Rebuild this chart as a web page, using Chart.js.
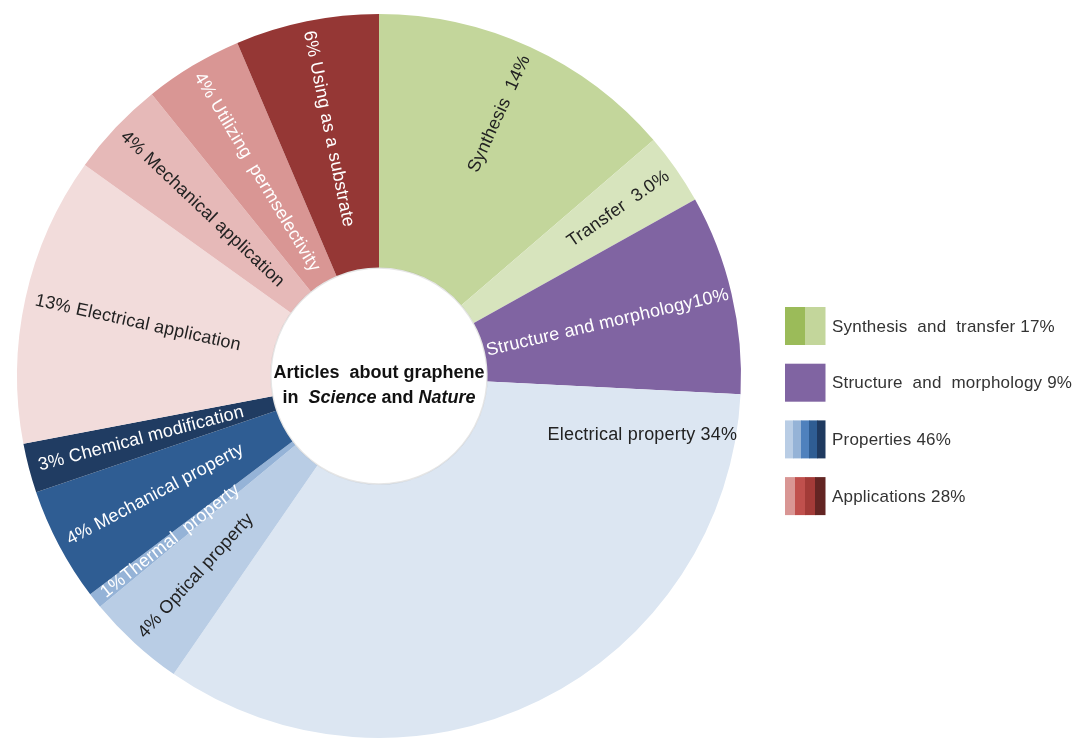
<!DOCTYPE html>
<html>
<head>
<meta charset="utf-8">
<title>Articles about graphene in Science and Nature</title>
<script src="https://cdn.jsdelivr.net/npm/chart.js"></script>
<style>
  html, body { margin: 0; padding: 0; background: #fff; }
  #wrap { width: 1081px; height: 742px; }
</style>
</head>
<body>
<div id="wrap"><canvas id="pie" width="1081" height="742"></canvas></div>
<script>
// slices go clockwise from 12 o'clock
const categories = [
  'Synthesis', 'Transfer', 'Structure and morphology', 'Electrical property',
  'Optical property', 'Thermal property', 'Mechanical property', 'Chemical modification',
  'Electrical application', 'Mechanical application', 'Utilizing permselectivity', 'Using as a substrate'
];
// shares
const values = [13.7, 3.2, 8.9, 33.8, 4.4, 0.7, 5.1, 2.2, 12.9, 4.3, 4.4, 6.4];
// text printed on the slices
const sliceLabels = [
  'Synthesis  14%', 'Transfer  3.0%', 'Structure and morphology10%', 'Electrical property 34%',
  '4% Optical property', '1%Thermal  property', '4% Mechanical property', '3% Chemical modification',
  '13% Electrical application', '4% Mechanical application', '4% Utilizing  permselectivity', '6% Using as a substrate'
];
const legendLabels = [
  'Synthesis  and  transfer 17%', 'Structure  and  morphology 9%', 'Properties 46%', 'Applications 28%'
];

// styles
const sliceColors = [
  '#c3d69b', '#d7e4bd', '#8064a2', '#dce6f2',
  '#b9cde5', '#95b3d7', '#2f5d93', '#203c62',
  '#f2dcdb', '#e6b9b8', '#d99694', '#953735'
];
const labelInk = [
  '#222', '#222', '#fff', '#222',
  '#222', '#fff', '#fff', '#fff',
  '#222', '#222', '#fff', '#fff'
];
// how far in from the rim each label sits
const labelInset = [10, 10, 3, 10, 10, 10, 10, 10, 10, 10, 10, 10];
const flatLabel = 3;          // this one is written level, near the rim
const legendStripes = [
  ['#9bbb59', '#c3d69b'],
  ['#8064a2'],
  ['#b9cde5', '#95b3d7', '#4f81bd', '#2f5d93', '#1f3a60'],
  ['#d99694', '#c0504d', '#a33b38', '#632523']
];
const FONT = '"Liberation Sans", Arial, sans-serif';

// labels along the radius of each slice
const sliceText = {
  id: 'sliceText',
  afterDatasetsDraw(chart) {
    const ctx = chart.ctx;
    const arcs = chart.getDatasetMeta(0).data;
    ctx.save();
    ctx.font = '18px ' + FONT;
    ctx.textBaseline = 'middle';
    ctx.letterSpacing = '0.2px';
    arcs.forEach(function (arc, i) {
      const p = arc.getProps(['x', 'y', 'startAngle', 'endAngle', 'outerRadius'], true);
      ctx.fillStyle = labelInk[i];
      ctx.save();
      ctx.translate(p.x, p.y);
      if (i === flatLabel) {
        const a = p.startAngle + 0.053 * (p.endAngle - p.startAngle);
        const r = p.outerRadius + 1;
        ctx.textAlign = 'right';
        ctx.fillText(sliceLabels[i], r * Math.cos(a), r * Math.sin(a));
      } else {
        const a = (p.startAngle + p.endAngle) / 2;
        const r = p.outerRadius - labelInset[i];
        if (Math.cos(a) >= 0) {
          ctx.rotate(a);
          ctx.textAlign = 'right';
          ctx.fillText(sliceLabels[i], r, 0);
        } else {
          ctx.rotate(a + Math.PI);
          ctx.textAlign = 'left';
          ctx.fillText(sliceLabels[i], -r, 0);
        }
      }
      ctx.restore();
    });
    ctx.restore();
  }
};

// title in the hole, with italic journal names
const centerText = {
  id: 'centerText',
  afterDatasetsDraw(chart) {
    const ctx = chart.ctx;
    const arc = chart.getDatasetMeta(0).data[0];
    const cx = arc.x, cy = arc.y;
    ctx.save();
    // soft rim round the hole
    ctx.strokeStyle = 'rgba(0,0,0,0.10)';
    ctx.lineWidth = 1.5;
    ctx.beginPath();
    ctx.arc(cx, cy, arc.innerRadius - 0.5, 0, Math.PI * 2);
    ctx.stroke();

    ctx.fillStyle = '#111';
    ctx.textBaseline = 'middle';
    ctx.textAlign = 'center';
    ctx.font = 'bold 18px ' + FONT;
    ctx.fillText('Articles  about graphene', cx, cy - 3);

    const parts = [['in  ', false], ['Science', true], [' and ', false], ['Nature', true]];
    let w = 0;
    parts.forEach(function (pt) {
      ctx.font = (pt[1] ? 'italic ' : '') + 'bold 18px ' + FONT;
      w += ctx.measureText(pt[0]).width;
    });
    let x = cx - w / 2;
    ctx.textAlign = 'left';
    parts.forEach(function (pt) {
      ctx.font = (pt[1] ? 'italic ' : '') + 'bold 18px ' + FONT;
      ctx.fillText(pt[0], x, cy + 22);
      x += ctx.measureText(pt[0]).width;
    });
    ctx.restore();
  }
};

// striped legend on the right
const stripeLegend = {
  id: 'stripeLegend',
  afterDraw(chart) {
    const ctx = chart.ctx;
    const left = 785, top = 307, sw = 40, sh = 38, step = 56.7;
    ctx.save();
    ctx.font = '17px ' + FONT;
    ctx.letterSpacing = '0.2px';
    ctx.textBaseline = 'middle';
    legendLabels.forEach(function (txt, i) {
      const y = top + i * step;
      const cols = legendStripes[i];
      const cw = sw / cols.length;
      cols.forEach(function (c, j) {
        ctx.fillStyle = c;
        ctx.fillRect(left + j * cw, y, cw + 0.5, sh);
      });
      ctx.fillStyle = '#333';
      ctx.fillText(txt, left + sw + 7, y + sh / 2 + 1);
    });
    ctx.restore();
  }
};

new Chart(document.getElementById('pie'), {
  type: 'doughnut',
  data: {
    labels: categories,
    datasets: [{
      data: values,
      backgroundColor: sliceColors,
      borderWidth: 0
    }]
  },
  options: {
    responsive: false,
    animation: false,
    cutout: '30%',
    layout: { padding: { left: 17, right: 340, top: 14, bottom: 4 } },
    plugins: {
      legend: { display: false },
      tooltip: { enabled: false }
    }
  },
  plugins: [sliceText, centerText, stripeLegend]
});
</script>
</body>
</html>
